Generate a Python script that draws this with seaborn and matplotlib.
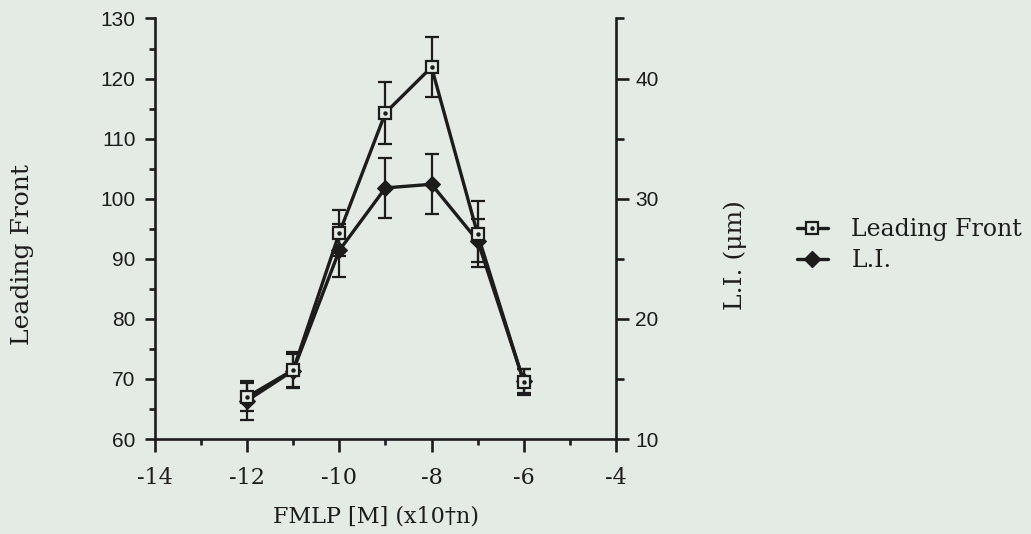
import matplotlib
matplotlib.use("Agg")
import matplotlib.pyplot as plt
from matplotlib.lines import Line2D
from matplotlib.ticker import MultipleLocator
import seaborn as sns
import pandas as pd

# values
fmlp = [-12, -11, -10, -9, -8, -7, -6]
leading_front = [67.0, 71.5, 94.3, 114.3, 121.9, 94.1, 69.5]
leading_front_err = [2.3, 3.0, 3.8, 5.2, 5.0, 5.5, 2.2]
li = [13.2, 15.7, 25.7, 30.9, 31.2, 26.5, 14.8]
li_err = [1.6, 1.4, 2.2, 2.5, 2.5, 1.8, 1.0]

df = pd.DataFrame({"fmlp": fmlp, "lf": leading_front, "lf_err": leading_front_err,
                   "li": li, "li_err": li_err})

BG = "#e4eae4"
INK = "#1c1c1c"
SERIF = "DejaVu Serif"
SANS = "Liberation Sans"

sns.set_theme(style="ticks")
plt.rcParams["font.family"] = [SERIF, "DejaVu Sans"]
plt.rcParams["axes.unicode_minus"] = False

fig = plt.figure(figsize=(10.31, 5.34), dpi=100, facecolor=BG)
ax = fig.add_axes([0.1503, 0.1779, 0.4471, 0.7875], facecolor=BG)
ax2 = ax.twinx()
ax2.patch.set_visible(False)

# L.I. on the right axis
sns.lineplot(data=df, x="fmlp", y="li", ax=ax2, color=INK, linewidth=2.4,
             marker="D", markersize=8.5, markerfacecolor=INK, markeredgecolor=INK, zorder=3)
ax2.errorbar(df["fmlp"], df["li"], yerr=df["li_err"], fmt="none", ecolor=INK,
             elinewidth=1.6, capsize=5, capthick=1.6, zorder=3)

# Leading front on the left axis, drawn above L.I.
ax.set_zorder(ax2.get_zorder() + 1)
ax.patch.set_visible(False)
sns.lineplot(data=df, x="fmlp", y="lf", ax=ax, color=INK, linewidth=2.4,
             marker="s", markersize=8.5, markerfacecolor=BG, markeredgecolor=INK,
             markeredgewidth=1.6, zorder=4)
ax.errorbar(df["fmlp"], df["lf"], yerr=df["lf_err"], fmt="none", ecolor=INK,
            elinewidth=1.6, capsize=5, capthick=1.6, zorder=3)
ax.plot(df["fmlp"], df["lf"], linestyle="none", marker="o", markersize=2.2, color=INK, zorder=5)

ax.set_xlim(-14, -4)
ax.set_ylim(60, 130)
ax2.set_ylim(10, 45)

ax.xaxis.set_major_locator(MultipleLocator(2))
ax.xaxis.set_minor_locator(MultipleLocator(1))
ax.yaxis.set_major_locator(MultipleLocator(10))
ax.yaxis.set_minor_locator(MultipleLocator(5))
ax2.yaxis.set_major_locator(MultipleLocator(10))
ax2.yaxis.set_minor_locator(MultipleLocator(5))

for a in (ax, ax2):
    for s in a.spines.values():
        s.set_color(INK)
        s.set_linewidth(1.9)
    a.spines["top"].set_visible(False)
ax.spines["right"].set_visible(False)
ax2.spines["left"].set_visible(False)
ax2.spines["bottom"].set_visible(False)

ax.tick_params(axis="x", which="major", length=9, width=1.9, color=INK, pad=11,
               labelsize=16, labelcolor=INK)
ax.tick_params(axis="x", which="minor", length=4.5, width=1.9, color=INK)
ax.tick_params(axis="y", which="major", length=7, width=1.9, color=INK, pad=7,
               labelsize=15, labelcolor=INK)
ax.tick_params(axis="y", which="minor", length=4, width=1.9, color=INK)
ax2.tick_params(axis="y", which="major", length=9, width=1.9, color=INK, pad=5,
                labelsize=15, labelcolor=INK)
ax2.tick_params(axis="y", which="minor", length=6, width=1.9, color=INK)
for lab in ax.get_yticklabels() + ax2.get_yticklabels():
    lab.set_family(SANS)
for lab in ax.get_xticklabels():
    lab.set_family(SERIF)

ax.set_xlabel("FMLP [M] (x10\u2020n)", fontsize=16, color=INK)
ax.set_ylabel("Leading Front", fontsize=18, color=INK)
ax2.set_ylabel("L.I. (\u03bcm)", fontsize=18, color=INK)
ax.xaxis.set_label_coords(0.479, -0.157)
ax.yaxis.set_label_coords(-0.262, 0.4376)
ax2.yaxis.set_label_coords(1.234, 0.4376)

handles = [
    (Line2D([], [], color=INK, linewidth=2.4, marker="s", markersize=8.5,
            markerfacecolor=BG, markeredgecolor=INK, markeredgewidth=1.6),
     Line2D([], [], linestyle="none", marker="o", markersize=2.2, color=INK)),
    Line2D([], [], color=INK, linewidth=2.4, marker="D", markersize=8.5,
           markerfacecolor=INK, markeredgecolor=INK),
]
fig.legend(handles, ["Leading Front", "L.I."], loc="upper left",
           bbox_to_anchor=(0.773, 0.592), frameon=False, borderpad=0,
           borderaxespad=0, handlelength=1.3, handletextpad=1.0,
           labelspacing=0.36, prop={"family": SERIF, "size": 17},
           labelcolor=INK)

fig.savefig("out.png", dpi=100, facecolor=BG)
